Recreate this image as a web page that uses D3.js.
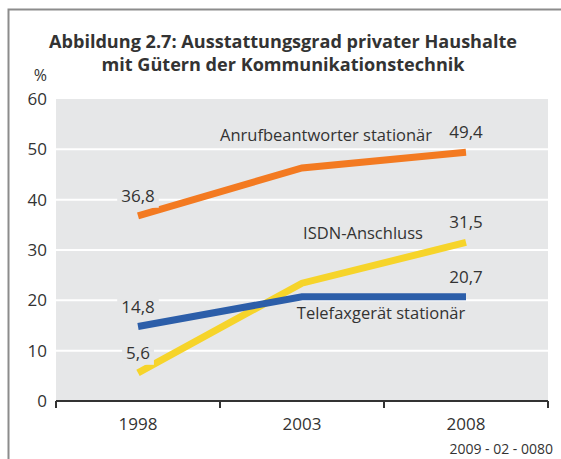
<!DOCTYPE html>
<html>
<head>
<meta charset="utf-8">
<script src="https://cdn.jsdelivr.net/npm/d3@7"></script>
<style>
  body { margin: 0; background: #fff; }
  text { font-family: "Open Sans", "Noto Sans", sans-serif; fill: #333; }
</style>
</head>
<body>
<div id="chart"></div>
<script>
// chart data
const YEARS = ["1998", "2003", "2008"];
const SERIES_NAMES = ["Anrufbeantworter stationär", "ISDN-Anschluss", "Telefaxgerät stationär"];
const ANRUF = [36.8, 46.3, 49.4];
const ISDN = [5.6, 23.4, 31.5];
const TELEFAX = [14.8, 20.7, 20.7];
const Y_TICKS = [0, 10, 20, 30, 40, 50, 60];
const TITLE = ["Abbildung 2.7: Ausstattungsgrad privater Haushalte",
               "mit Gütern der Kommunikationstechnik"];

// frame
const FRAME_WIDTH = 561;
const FRAME_HEIGHT = 459;
const MARGINS = {left: 56, right: 13, top: 99, bottom: 58};
const VIS_WIDTH = FRAME_WIDTH - MARGINS.left - MARGINS.right;
const VIS_HEIGHT = FRAME_HEIGHT - MARGINS.top - MARGINS.bottom;

const svg = d3.select("#chart")
  .append("svg")
    .attr("width", FRAME_WIDTH)
    .attr("height", FRAME_HEIGHT);

// outer border (top and left only)
svg.append("path")
  .attr("d", "M8.5,459 L8.5,9.5 L561,9.5")
  .attr("fill", "none")
  .attr("stroke", "#8c8c8c")
  .attr("stroke-width", 2);

// title
svg.selectAll(".title")
  .data(TITLE)
  .enter()
  .append("text")
    .attr("class", "title")
    .attr("x", 283)
    .attr("y", (d, i) => 48 + i * 23)
    .attr("text-anchor", "middle")
    .attr("font-size", 18)
    .attr("font-weight", "bold")
    .attr("textLength", (d, i) => i === 0 ? 468 : 363)
    .attr("lengthAdjust", "spacingAndGlyphs")
    .text(d => d);

// scales
const X = d3.scaleBand().domain(YEARS).range([0, VIS_WIDTH]);
const Y = d3.scaleLinear().domain([0, 60]).range([VIS_HEIGHT, 0]);

const g = svg.append("g")
  .attr("transform", `translate(${MARGINS.left},${MARGINS.top})`);

// plot background
g.append("rect")
  .attr("width", VIS_WIDTH)
  .attr("height", VIS_HEIGHT)
  .attr("fill", "#e6e7e8");

// gridlines
g.selectAll(".grid")
  .data(Y_TICKS.filter(d => d > 0 && d < 60))
  .enter()
  .append("line")
    .attr("x1", 0)
    .attr("x2", VIS_WIDTH)
    .attr("y1", d => Y(d))
    .attr("y2", d => Y(d))
    .attr("stroke", "#fff")
    .attr("stroke-width", 2);

// y labels
svg.selectAll(".ylab")
  .data(Y_TICKS)
  .enter()
  .append("text")
    .attr("x", 47)
    .attr("y", d => MARGINS.top + Y(d) + 6)
    .attr("text-anchor", "end")
    .attr("font-size", 17)
    .text(d => d);

svg.append("text")
  .attr("x", 47)
  .attr("y", 81)
  .attr("text-anchor", "end")
  .attr("font-size", 16)
  .text("%");

// x axis
const xAxis = g.append("g")
  .attr("transform", `translate(0,${VIS_HEIGHT})`);
xAxis.append("line")
  .attr("x1", 0).attr("x2", VIS_WIDTH)
  .attr("stroke", "#333").attr("stroke-width", 2);
xAxis.selectAll(".tick")
  .data(YEARS.map(d => X(d)).concat([VIS_WIDTH]))
  .enter()
  .append("line")
    .attr("x1", d => d).attr("x2", d => d)
    .attr("y1", 0).attr("y2", 7)
    .attr("stroke", "#333").attr("stroke-width", 2);
xAxis.selectAll(".xlab")
  .data(YEARS)
  .enter()
  .append("text")
    .attr("x", d => X(d) + X.bandwidth() / 2)
    .attr("y", 29)
    .attr("text-anchor", "middle")
    .attr("font-size", 17)
    .text(d => d);

// lines
const series = [
  {name: SERIES_NAMES[0], values: ANRUF, color: "#f37a21", lab: [326, 141]},
  {name: SERIES_NAMES[1], values: ISDN, color: "#f6d42a", lab: [363, 239]},
  {name: SERIES_NAMES[2], values: TELEFAX, color: "#2c5ea9", lab: [381, 319]}
];

const line = d3.line()
  .x((d, i) => X(YEARS[i]) + X.bandwidth() / 2)
  .y(d => Y(d));

g.selectAll(".series")
  .data(series)
  .enter()
  .append("path")
    .attr("d", d => line(d.values))
    .attr("fill", "none")
    .attr("stroke", d => d.color)
    .attr("stroke-width", 7)
    .attr("stroke-linejoin", "miter");

// value labels at first and last points
const fmt = v => d3.format(".1f")(v).replace(".", ",");
const valueLabels = [];
series.forEach(s => {
  valueLabels.push({year: YEARS[0], v: s.values[0]});
  valueLabels.push({year: YEARS[2], v: s.values[2]});
});

const vl = g.selectAll(".vlab")
  .data(valueLabels)
  .enter()
  .append("g")
    .attr("transform", d => `translate(${X(d.year) + X.bandwidth() / 2},${Y(d.v) - 14})`);

vl.append("text")
  .attr("text-anchor", "middle")
  .attr("font-size", 17)
  .text(d => fmt(d.v));

vl.each(function() {
  const grp = d3.select(this);
  const bb = grp.select("text").node().getBBox();
  grp.insert("rect", "text")
    .attr("x", bb.x - 4)
    .attr("y", -15)
    .attr("width", bb.width + 8)
    .attr("height", 21)
    .attr("fill", "#e6e7e8");
});

// series names
svg.selectAll(".sname")
  .data(series)
  .enter()
  .append("text")
    .attr("x", d => d.lab[0])
    .attr("y", d => d.lab[1])
    .attr("text-anchor", "middle")
    .attr("font-size", 16.5)
    .text(d => d.name);

// footer code
svg.append("text")
  .attr("x", 553)
  .attr("y", 454)
  .attr("text-anchor", "end")
  .attr("font-size", 14)
  .text("2009 - 02 - 0080");
</script>
</body>
</html>
